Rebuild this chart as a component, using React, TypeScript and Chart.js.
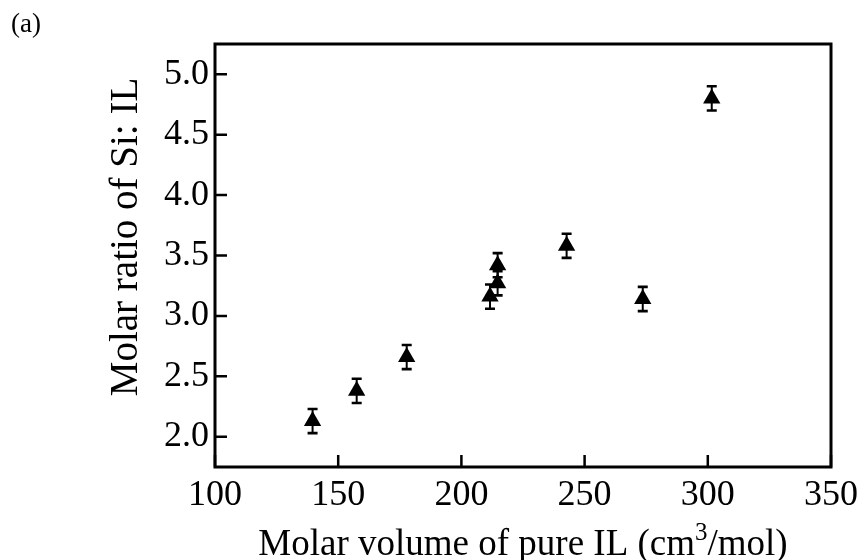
import React, { useEffect, useRef } from "react";
import { Chart, registerables } from "chart.js";

Chart.register(...registerables);

const molarVolume = [139.6, 157.5, 177.8, 211.6, 214.7, 214.7, 242.7, 273.6, 301.6];
const molarRatio = [2.13, 2.38, 2.66, 3.16, 3.27, 3.42, 3.58, 3.14, 4.8];
const ratioError = [0.1, 0.1, 0.1, 0.1, 0.1, 0.1, 0.1, 0.1, 0.1];
const yTickValues = [2.0, 2.5, 3.0, 3.5, 4.0, 4.5, 5.0];
const xTickValues = [100, 150, 200, 250, 300, 350];
const panelLabel = "(a)";
const yTitle = "Molar ratio of Si: IL";
const xTitleParts = ["Molar volume of pure IL (cm", "3", "/mol)"];

const FONT = "'Liberation Serif', 'Times New Roman', serif";

const decorPlugin = {
  id: "decor",
  afterDatasetsDraw(chart: any) {
    const ctx = chart.ctx;
    const xs = chart.scales.x;
    const ys = chart.scales.y;
    const area = chart.chartArea;
    ctx.save();
    ctx.strokeStyle = "#000";
    ctx.fillStyle = "#000";
    // error bars
    for (let i = 0; i < molarVolume.length; i++) {
      const px = xs.getPixelForValue(molarVolume[i]);
      const top = ys.getPixelForValue(molarRatio[i] + ratioError[i]);
      const bot = ys.getPixelForValue(molarRatio[i] - ratioError[i]);
      ctx.lineWidth = 2;
      ctx.beginPath();
      ctx.moveTo(px, top);
      ctx.lineTo(px, bot);
      ctx.stroke();
      ctx.lineWidth = 2.6;
      ctx.beginPath();
      ctx.moveTo(px - 5, top);
      ctx.lineTo(px + 5, top);
      ctx.moveTo(px - 5, bot);
      ctx.lineTo(px + 5, bot);
      ctx.stroke();
    }
    // inside ticks
    ctx.lineWidth = 2.5;
    ctx.beginPath();
    for (const v of yTickValues) {
      const py = ys.getPixelForValue(v);
      ctx.moveTo(area.left, py);
      ctx.lineTo(area.left + 12, py);
    }
    for (const v of xTickValues) {
      const px = xs.getPixelForValue(v);
      ctx.moveTo(px, area.bottom);
      ctx.lineTo(px, area.bottom - 12);
    }
    ctx.stroke();
    // frame
    ctx.lineWidth = 3;
    ctx.strokeRect(area.left, area.top, area.right - area.left, area.bottom - area.top);
    // panel label
    ctx.font = `27px ${FONT}`;
    ctx.textBaseline = "alphabetic";
    ctx.textAlign = "left";
    ctx.fillText(panelLabel, 11, 32);
    // y title
    ctx.save();
    ctx.translate(137, 237);
    ctx.rotate(-Math.PI / 2);
    ctx.font = `39px ${FONT}`;
    ctx.textAlign = "center";
    ctx.fillText(yTitle, 0, 0);
    ctx.restore();
    // x title with superscript
    const mainFont = `37px ${FONT}`;
    const supFont = `25px ${FONT}`;
    ctx.font = mainFont;
    const w1 = ctx.measureText(xTitleParts[0]).width;
    const w3 = ctx.measureText(xTitleParts[2]).width;
    ctx.font = supFont;
    const w2 = ctx.measureText(xTitleParts[1]).width;
    const total = w1 + w2 + w3;
    const cx = (area.left + area.right) / 2;
    const x0 = cx - total / 2;
    const base = 555;
    ctx.textAlign = "left";
    ctx.font = mainFont;
    ctx.fillText(xTitleParts[0], x0, base);
    ctx.font = supFont;
    ctx.fillText(xTitleParts[1], x0 + w1, base - 15);
    ctx.font = mainFont;
    ctx.fillText(xTitleParts[2], x0 + w1 + w2, base);
    ctx.restore();
  },
};

export default function App() {
  const ref = useRef<HTMLCanvasElement>(null);
  useEffect(() => {
    if (!ref.current) return;
    const chart = new Chart(ref.current, {
      type: "scatter",
      data: {
        datasets: [
          {
            data: molarVolume.map((x, i) => ({ x, y: molarRatio[i] })),
            pointStyle: "triangle",
            pointRadius: 10,
            pointHoverRadius: 10,
            backgroundColor: "#000",
            borderColor: "#000",
            borderWidth: 0,
          },
        ],
      },
      options: {
        animation: false,
        responsive: false,
        maintainAspectRatio: false,
        layout: { padding: { left: 0, right: 37, top: 44, bottom: 0 } },
        plugins: { legend: { display: false }, tooltip: { enabled: false } },
        scales: {
          x: {
            type: "linear",
            min: 100,
            max: 350,
            afterFit: (s: any) => {
              s.height = 93;
            },
            afterBuildTicks: (s: any) => {
              s.ticks = xTickValues.map((v) => ({ value: v }));
            },
            grid: { display: false, drawTicks: false },
            border: { display: false },
            ticks: {
              padding: 7,
              color: "#000",
              font: { family: FONT, size: 36 },
              maxRotation: 0,
              autoSkip: false,
            },
          },
          y: {
            type: "linear",
            min: 1.75,
            max: 5.25,
            afterFit: (s: any) => {
              s.width = 215;
            },
            afterBuildTicks: (s: any) => {
              s.ticks = yTickValues.map((v) => ({ value: v }));
            },
            grid: { display: false, drawTicks: false },
            border: { display: false },
            ticks: {
              padding: 6,
              color: "#000",
              font: { family: FONT, size: 36 },
              callback: (v: any) => Number(v).toFixed(1),
            },
          },
        },
      },
      plugins: [decorPlugin],
    });
    return () => chart.destroy();
  }, []);
  return (
    <div style={{ position: "absolute", left: 0, top: 0, width: 868, height: 560, background: "#fff" }}>
      <canvas ref={ref} width={868} height={560} style={{ width: 868, height: 560, display: "block" }} />
    </div>
  );
}
